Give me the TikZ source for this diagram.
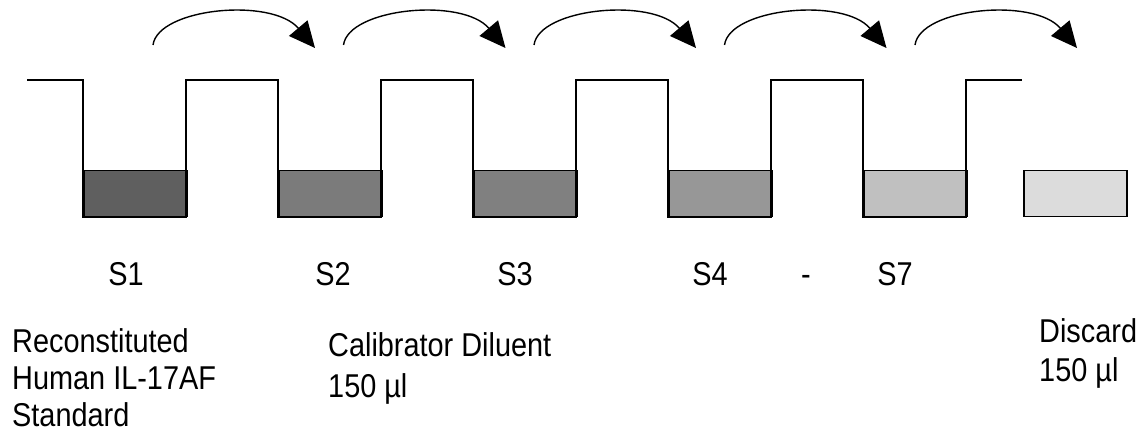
\documentclass[tikz,border=0pt]{standalone}
\usepackage{fontspec}
\setmainfont{Liberation Sans}
\newfontfamily\labfont[FakeStretch=0.875]{Liberation Sans}
\usetikzlibrary{arrows.meta,calc}
\definecolor{fillA}{HTML}{5F5F5F}
\definecolor{fillB}{HTML}{7B7B7B}
\definecolor{fillC}{HTML}{808080}
\definecolor{fillD}{HTML}{979797}
\definecolor{fillE}{HTML}{C0C0C0}
\definecolor{fillF}{HTML}{DCDCDC}
\tikzset{
  liquid/.style={draw=black, line width=1.5pt, rectangle, minimum width=103pt, minimum height=46pt, inner sep=0pt, anchor=south west},
  tubeline/.style={draw=black, line width=1.5pt, line join=miter},
  transfer/.style={draw=black, line width=1.4pt, -{Triangle[length=26pt,width=24pt]}},
  lab/.style={font=\labfont\fontsize{33}{38}\selectfont, inner sep=0pt, anchor=base},
  txt/.style={font=\labfont\fontsize{33}{#1}\selectfont, inner sep=0pt, anchor=base west, align=left},
  tick/.style={draw=black, line width=2.6pt}
}
\begin{document}
\begin{tikzpicture}[x=1pt,y=-1pt]
\path[use as bounding box, fill=white] (0,0) rectangle (1147,444);
% liquid levels
\node[liquid, fill=fillA] (w1) at (83,217) {};
\node[liquid, fill=fillB] (w2) at (278,217) {};
\node[liquid, fill=fillC] (w3) at (473,217) {};
\node[liquid, fill=fillD] (w4) at (668,217) {};
\node[liquid, fill=fillE] (w5) at (863,217) {};
\node[liquid, fill=fillF] (w6) at (1023,217) {};
% tube outline
\draw[tubeline] (27,80) -- (83,80) -- (83,217) -- (186,217) -- (186,80)
  -- (278,80) -- (278,217) -- (381,217) -- (381,80)
  -- (473,80) -- (473,217) -- (576,217) -- (576,80)
  -- (668,80) -- (668,217) -- (771,217) -- (771,80)
  -- (863,80) -- (863,217) -- (966,217) -- (966,80) -- (1022,80);
\foreach \x in {222,417,612,807}
  \draw[tick] (\x,80) -- (\x+21,80);
% transfer arrows
\foreach \i/\s in {1/153,2/343.5,3/534,4/724.5,5/915}{
  \coordinate (s\i) at (\s,45);
  \coordinate (t\i) at (\s+162,48);
  \draw[transfer] (s\i) .. controls ($(s\i)+(5,-37)$) and ($(t\i)+(-43,-51)$) .. (t\i);
}
% labels
\node[lab] (l1) at (126,285) {S1};
\node[lab] (l2) at (333,285) {S2};
\node[lab] (l3) at (515,285) {S3};
\node[lab] (l4) at (710,285) {S4};
\node[lab] (ld) at (806,285) {-};
\node[lab] (l7) at (895,285) {S7};
\node[txt=37] (r1) at (12,426) {Reconstituted\\Human IL-17AF\\Standard};
\node[txt=41] (r2) at (328,397) {Calibrator Diluent\\150 µl};
\node[txt=39] (r3) at (1039,381) {Discard\\150 µl};
\end{tikzpicture}
\end{document}
